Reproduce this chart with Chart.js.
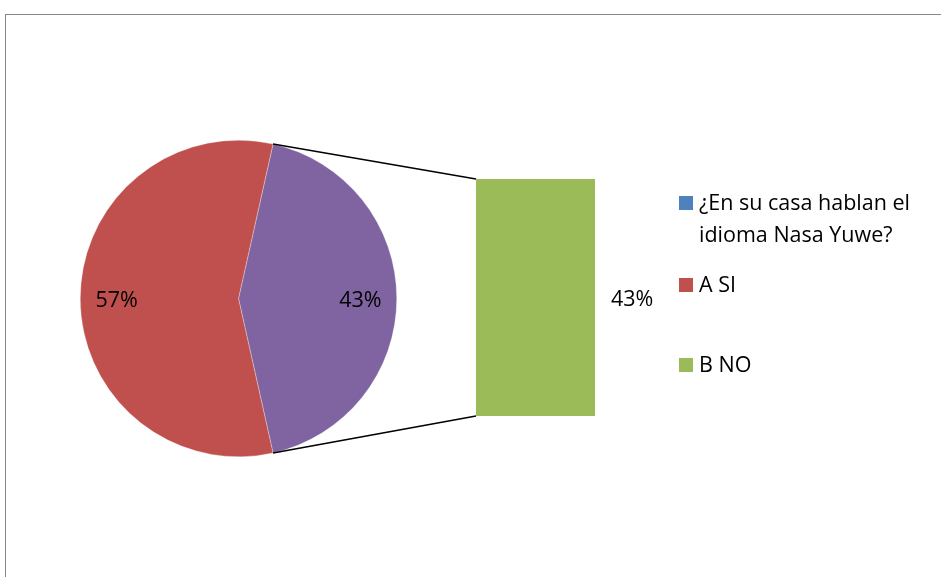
<!DOCTYPE html>
<html>
<head>
<meta charset="utf-8">
<script src="https://cdn.jsdelivr.net/npm/chart.js@4"></script>
<style>
  html, body { margin: 0; padding: 0; background: #fff; }
  #wrap { position: relative; width: 941px; height: 577px; overflow: hidden; font-family: 'Open Sans', sans-serif; }
  #frame { position: absolute; left: 5px; top: 14px; width: 950px; height: 600px;
           border-top: 1.5px solid #878787; border-left: 1.5px solid #878787; }
  canvas { position: absolute; left: 0; top: 0; }
  #legend { position: absolute; left: 679px; top: 186px; }
  .item { position: absolute; left: 0; white-space: nowrap; font-size: 21.5px; line-height: 32px; color: #000; }
  .item span.box { position: absolute; left: 0; top: 10px; width: 14px; height: 14px; }
  .item span.txt { display: block; margin-left: 20px; }
</style>
</head>
<body>
<div id="wrap">
  <div id="frame"></div>
  <canvas id="pieChart" width="941" height="577"></canvas>
  <canvas id="barChart" width="941" height="577"></canvas>
  <div id="legend"></div>
</div>
<script>
/* DATA */
var seriesName = '¿En su casa hablan el idioma Nasa Yuwe?';
var categories = ['A SI', 'B NO'];
var values = [57, 43];          // percent
var colors = ['#C0504D', '#9BBB59'];
var seriesColor = '#4F81BD';
var otherColor = '#8064A2';

var pieValues = [values[1], values[0]];     // "other" slice first, then A SI
var pieColors = [otherColor, colors[0]];
var pieLabels = ['Otro', categories[0]];
var barValues = [values[1]];
var barLabels = [categories[1]];

var total = values.reduce(function (a, b) { return a + b; }, 0);
var rotation = 90 - (pieValues[0] / total) * 180;

var labelFont = "21.5px 'Open Sans', sans-serif";

/* PIE GRAPH */
var pieLabelPlugin = {
    id: 'pieLabels',
    afterDatasetsDraw: function (chart) {
        var ctx = chart.ctx;
        var meta = chart.getDatasetMeta(0);
        ctx.save();
        ctx.font = labelFont;
        ctx.fillStyle = '#000';
        ctx.textAlign = 'center';
        ctx.textBaseline = 'middle';
        meta.data.forEach(function (arc, i) {
            var mid = (arc.startAngle + arc.endAngle) / 2;
            var r = arc.outerRadius * 0.77;
            var pct = Math.round(pieValues[i] / total * 100) + '%';
            ctx.fillText(pct, arc.x + r * Math.cos(mid), arc.y + 2 + r * Math.sin(mid));
        });
        ctx.restore();
    }
};

var pie = new Chart(document.getElementById('pieChart'), {
    type: 'pie',
    data: {
        labels: pieLabels,
        datasets: [{
            data: pieValues,
            backgroundColor: pieColors,
            borderColor: 'rgba(255,255,255,0.6)',
            borderWidth: 0.5
        }]
    },
    options: {
        responsive: false,
        animation: false,
        rotation: rotation,
        layout: { padding: { left: 80, top: 140, right: 544, bottom: 120 } },
        plugins: { legend: { display: false }, tooltip: { enabled: false } }
    },
    plugins: [pieLabelPlugin]
});

/* BAR OF PIE */
var connectorPlugin = {
    id: 'connectors',
    afterDatasetsDraw: function (chart) {
        var ctx = chart.ctx;
        var bar = chart.getDatasetMeta(0).data[0];
        var arc = pie.getDatasetMeta(0).data[0];
        var r = arc.outerRadius;
        var left = bar.x - bar.width / 2;
        var right = bar.x + bar.width / 2;
        ctx.save();
        ctx.strokeStyle = '#000';
        ctx.lineWidth = 1.5;
        ctx.beginPath();
        ctx.moveTo(arc.x + r * Math.cos(arc.startAngle), arc.y + r * Math.sin(arc.startAngle));
        ctx.lineTo(left, bar.y);
        ctx.moveTo(arc.x + r * Math.cos(arc.endAngle), arc.y + r * Math.sin(arc.endAngle));
        ctx.lineTo(left, bar.base);
        ctx.stroke();
        ctx.font = labelFont;
        ctx.fillStyle = '#000';
        ctx.textAlign = 'left';
        ctx.textBaseline = 'middle';
        ctx.fillText(Math.round(barValues[0] / total * 100) + '%', right + 16, (bar.y + bar.base) / 2 + 2);
        ctx.restore();
    }
};

new Chart(document.getElementById('barChart'), {
    type: 'bar',
    data: {
        labels: barLabels,
        datasets: [{
            data: barValues,
            backgroundColor: colors[1],
            barPercentage: 1,
            categoryPercentage: 1
        }]
    },
    options: {
        responsive: false,
        animation: false,
        layout: { padding: { left: 476, top: 179, right: 346, bottom: 161 } },
        scales: {
            x: { display: false },
            y: { display: false, min: 0, max: barValues[0] }
        },
        plugins: { legend: { display: false }, tooltip: { enabled: false } }
    },
    plugins: [connectorPlugin]
});

/* LEGEND */
var legendItems = [
    { text: seriesName, color: seriesColor, top: 0 },
    { text: categories[0], color: colors[0], top: 82 },
    { text: categories[1], color: colors[1], top: 162 }
];
var legend = document.getElementById('legend');
legendItems.forEach(function (it) {
    var d = document.createElement('div');
    d.className = 'item';
    d.style.top = it.top + 'px';
    var box = document.createElement('span');
    box.className = 'box';
    box.style.background = it.color;
    var t = document.createElement('span');
    t.className = 'txt';
    if (it.text === seriesName) {
        t.innerHTML = '¿En su casa hablan el<br>idioma Nasa Yuwe?';
    } else {
        t.textContent = it.text;
    }
    d.appendChild(box);
    d.appendChild(t);
    legend.appendChild(d);
});
</script>
</body>
</html>
